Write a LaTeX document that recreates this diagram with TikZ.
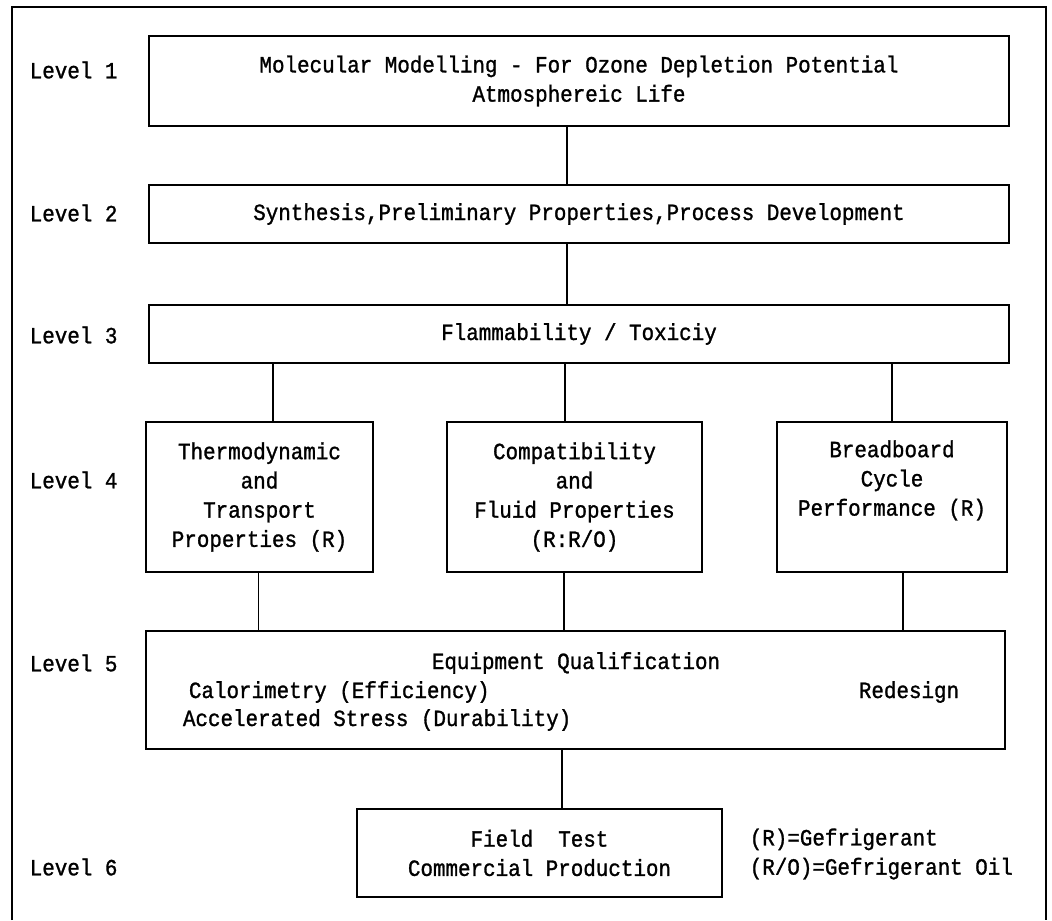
\documentclass[tikz,border=0pt]{standalone}
\usepackage{fontspec}
\setmainfont{Liberation Mono}[FakeStretch=0.90, FakeBold=1.2]
\usepackage{tikz}

\begin{document}
\begin{tikzpicture}[font=\fontsize{16.5}{20.8}\selectfont,
  stage/.style={draw, line width=0.9pt, align=center, inner sep=0pt},
  link/.style={line width=0.9pt},
  lvl/.style={anchor=west}]
\useasboundingbox (0,0) rectangle (26.30,-23.00);
\draw[link] (0.30,-23.00) -- (0.30,-0.175) -- (26.15,-0.175) -- (26.15,-23.00);
\node[lvl] (lev1) at (0.62,-1.75) {Level 1};
\node[lvl] (lev2) at (0.62,-5.325) {Level 2};
\node[lvl] (lev3) at (0.62,-8.375) {Level 3};
\node[lvl] (lev4) at (0.62,-12.00) {Level 4};
\node[lvl] (lev5) at (0.62,-16.575) {Level 5};
\node[lvl] (lev6) at (0.62,-21.675) {Level 6};
\node[stage, minimum width=21.50cm, minimum height=2.25cm] (mol) at (14.475,-2.025) {Molecular Modelling - For Ozone Depletion Potential\\Atmosphereic Life};
\node[stage, minimum width=21.50cm, minimum height=1.45cm] (syn) at (14.475,-5.35) {Synthesis,Preliminary Properties,Process Development};
\node[stage, minimum width=21.50cm, minimum height=1.45cm] (tox) at (14.475,-8.35) {Flammability / Toxiciy};
\node[stage, minimum width=5.675cm, minimum height=3.75cm] (thermo) at (6.4875,-12.425) {Thermodynamic\\and\\Transport\\Properties (R)};
\node[stage, minimum width=6.375cm, minimum height=3.75cm] (compat) at (14.3625,-12.425) {Compatibility\\and\\Fluid Properties\\(R:R/O)};
\node[stage, minimum width=5.75cm, minimum height=3.75cm] (bread) at (22.30,-12.425) {Breadboard\\Cycle\\Performance (R)\\\strut};
\node[stage, minimum width=21.475cm, minimum height=2.95cm] (equip) at (14.3875,-17.25) {};
\node (equiptitle) at (14.40,-16.575) {Equipment Qualification};
\node[lvl] (calor) at (4.60,-17.30) {Calorimetry (Efficiency)};
\node[lvl] (accel) at (4.45,-18.00) {Accelerated Stress (Durability)};
\node (redesign) at (22.725,-17.30) {Redesign};
\node[stage, minimum width=9.125cm, minimum height=2.20cm] (field) at (13.4875,-21.325) {Field\ \ Test\\Commercial Production};
\node[lvl, align=left] (legend) at (18.62,-21.35) {(R)=Gefrigerant\\(R/O)=Gefrigerant Oil};
\draw[link] ([xshift=-0.30cm]mol.south) -- ([xshift=-0.30cm]mol.south |- syn.north);
\draw[link] ([xshift=-0.30cm]syn.south) -- ([xshift=-0.30cm]syn.south |- tox.north);
\draw[link] ([xshift=0.34cm]thermo.north |- tox.south) -- ([xshift=0.34cm]thermo.north);
\draw[link] ([xshift=-0.24cm]compat.north |- tox.south) -- ([xshift=-0.24cm]compat.north);
\draw[link] (bread.north |- tox.south) -- (bread.north);
\draw[link] ([xshift=-0.03cm]thermo.south) -- ([xshift=-0.03cm]thermo.south |- equip.north);
\draw[link] ([xshift=-0.26cm]compat.south) -- ([xshift=-0.26cm]compat.south |- equip.north);
\draw[link] ([xshift=0.275cm]bread.south) -- ([xshift=0.275cm]bread.south |- equip.north);
\draw[link] ([xshift=0.5625cm]field.north |- equip.south) -- ([xshift=0.5625cm]field.north);
\end{tikzpicture}
\end{document}
